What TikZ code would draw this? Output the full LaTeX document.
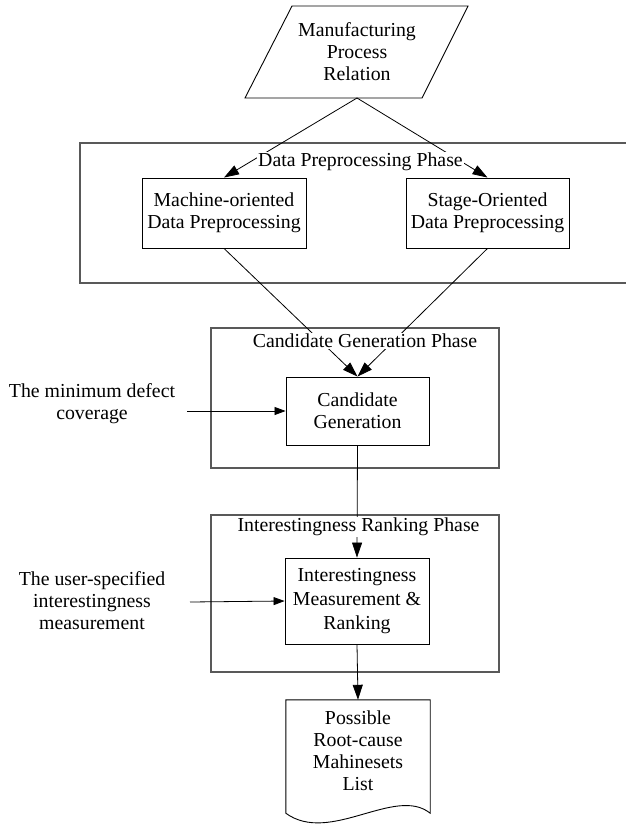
\documentclass[tikz,border=0pt]{standalone}
\usepackage{fontspec}
\setmainfont{Liberation Serif}
\usetikzlibrary{arrows.meta}
\newcommand{\diagfont}{\fontsize{19.8}{22}\selectfont}
\newcommand{\widefont}{\fontsize{19.8}{24}\selectfont}

\begin{document}
\begin{tikzpicture}[x=1pt,y=-1pt,
  font=\diagfont,
  phasebox/.style={draw=black!65, line width=1.4pt, inner sep=0pt},
  procbox/.style={draw=black, line width=0.9pt, align=center, inner sep=0pt},
  outline/.style={draw=black, line width=0.9pt},
  phasetitle/.style={fill=white, inner sep=1pt},
  note/.style={align=center, inner sep=0pt},
  flow/.style={draw=black, line width=0.8pt, -{Triangle[length=15pt,width=10pt]}},
  feed/.style={draw=black, line width=0.8pt, -{Triangle[length=11pt,width=8pt]}}]

\useasboundingbox (0,0) rectangle (626,827);

% phase frames
\node[phasebox, minimum width=548pt, minimum height=140pt] (dpframe) at (354,213) {};
\node[phasebox, minimum width=288pt, minimum height=140pt] (cgframe) at (355,398) {};
\node[phasebox, minimum width=288pt, minimum height=157pt] (irframe) at (355,593.5) {};

% input relation (parallelogram)
\draw[outline] (292,6) -- (468,6) -- (422,98) -- (245,98) -- cycle;
\node[note] (mpr) at (357,52) {Manufacturing\\Process\\Relation};
\coordinate (mprout) at (357,98);

% process steps
\node[procbox, minimum width=164pt, minimum height=70pt] (mach) at (224,213)
  {Machine-oriented\\Data Preprocessing};
\node[procbox, minimum width=163pt, minimum height=70pt] (stage) at (487.5,213)
  {Stage-Oriented\\Data Preprocessing};
\node[procbox, minimum width=143pt, minimum height=68pt] (cand) at (357.5,411)
  {Candidate\\Generation};
\node[procbox, minimum width=144pt, minimum height=86pt, font=\widefont] (rank) at (357,601)
  {Interestingness\\Measurement \&\\Ranking};

% result document
\node[minimum width=144pt, minimum height=113pt, inner sep=0pt] (doc) at (358,756.5) {};
\draw[outline] (doc.north west) -- (doc.north east) -- (doc.south east)
  .. controls +(-35,-28) and +(44,32) .. (doc.south west) -- cycle;
\node[note] (doctext) at (358,751) {Possible\\Root-cause\\Mahinesets\\List};

% user inputs
\node[note] (mincov) at (92,404) {The minimum defect\\coverage};
\node[note] (userm) at (92,601) {The user-specified\\interestingness\\measurement};
\coordinate (mincovout) at (187,411);
\coordinate (usermout) at (190,602);

% connectors
\draw[flow] (mprout) -- (mach.north);
\draw[flow] (mprout) -- (stage.north);
\draw[flow] (mach.south) -- (cand.north);
\draw[flow] (stage.south) -- (cand.north);
\draw[flow] (cand.south) -- (rank.north);
\draw[flow] (rank.south) -- (doc.north);
\draw[feed] (mincovout) -- (cand.west);
\draw[feed] (usermout) -- (rank.west);

% phase titles, over the connectors
\node[phasetitle] (dptitle) at (360.5,162) {Data Preprocessing Phase};
\node[phasetitle] (cgtitle) at (365,341) {Candidate Generation Phase};
\node[phasetitle] (irtitle) at (358.5,527) {Interestingness Ranking Phase};
\end{tikzpicture}
\end{document}
